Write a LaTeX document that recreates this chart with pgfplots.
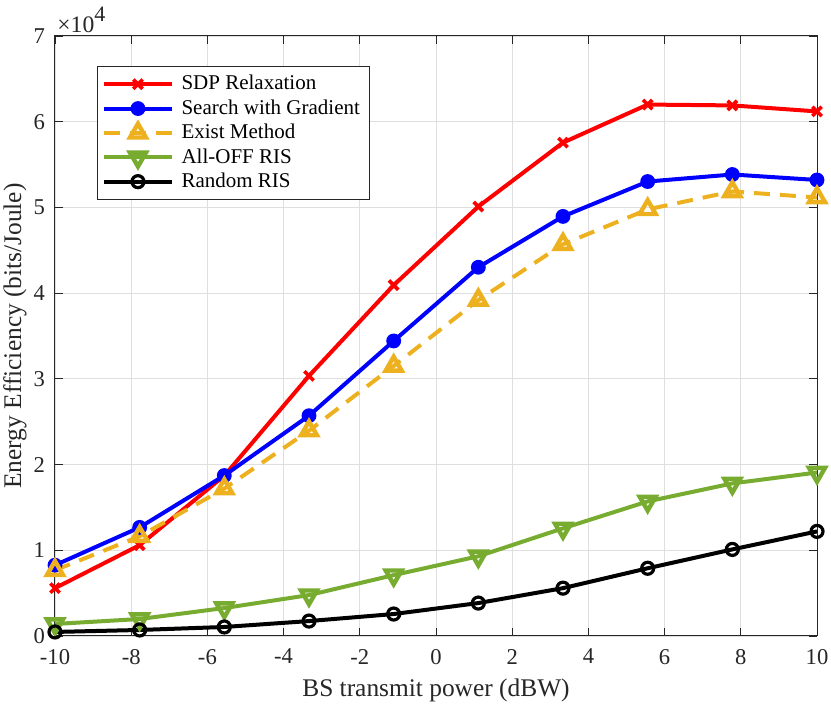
\documentclass[border=0pt]{standalone}
\usepackage{pgfplots}
\pgfplotsset{compat=1.18}
\usepackage{fontspec}
\setmainfont{Liberation Serif}
\definecolor{myyel}{rgb}{0.929,0.694,0.125}
\definecolor{mygrn}{rgb}{0.466,0.674,0.188}
\definecolor{axgray}{rgb}{0.15,0.15,0.15}
\begin{document}
\begin{tikzpicture}
\begin{axis}[
  name=ax,
  scale only axis, width=381pt, height=300pt,
  clip=false,
  xmin=-10, xmax=10, ymin=0, ymax=70000,
  xtick={-10,-8,...,10}, ytick={0,10000,...,70000},
  xticklabels={-10,-8,-6,-4,-2,0,2,4,6,8,10},
  yticklabels={0,1,2,3,4,5,6,7},
  scaled y ticks=false,
  tick label style={font=\fontsize{11.3}{13}\selectfont, text=axgray},
  xticklabel style={yshift=-3pt},
  yticklabel style={xshift=-1.5pt},
  xlabel={BS transmit power (dBW)},
  ylabel={Energy Efficiency (bits/Joule)},
  every axis x label/.style={at={(axis description cs:0.5,-0.1017)}, anchor=base, font=\fontsize{12.7}{14}\selectfont, text=axgray},
  every axis y label/.style={at={(axis description cs:-0.0525,0.5)}, rotate=90, anchor=center, font=\fontsize{12.7}{14}\selectfont, text=axgray},
  grid=major, major grid style={gray!25, line width=0.4pt},
  tick align=inside, major tick length=4pt,
  axis line style={axgray, line width=0.5pt},
  every tick/.style={axgray},
  legend style={at={(rel axis cs:0.0551,0.95)}, anchor=north west, draw=axgray, font=\fontsize{10.5}{12}\selectfont, inner sep=2.5pt, row sep=-0.6pt, /tikz/every odd column/.append style={column sep=2pt}},
  legend cell align=left,
  legend image code/.code={\draw[mark repeat=2,mark phase=2,#1] plot coordinates {(0cm,0cm) (0.59cm,0cm) (1.18cm,0cm)};},
]
\addplot[red, line width=2pt, mark=x, mark size=3.3pt, mark options={solid, line width=1.8pt}] coordinates {
(-10,5580) (-7.778,10600) (-5.556,18700) (-3.333,30350) (-1.111,40930) (1.111,50100) (3.333,57560) (5.556,62000) (7.778,61900) (10,61200)};
\addlegendentry{SDP Relaxation}
\addplot[blue, line width=2pt, mark=*, mark size=2.9pt, mark options={solid, line width=1.6pt}] coordinates {
(-10,8260) (-7.778,12670) (-5.556,18720) (-3.333,25700) (-1.111,34420) (1.111,43020) (3.333,48950) (5.556,53020) (7.778,53840) (10,53200)};
\addlegendentry{Search with Gradient}
\addplot[myyel, line width=2pt, dash pattern=on 8pt off 5pt, mark=triangle, mark size=4.6pt, mark options={solid, line width=2.2pt}] coordinates {
(-10,7670) (-7.778,11630) (-5.556,17200) (-3.333,23950) (-1.111,31500) (1.111,39190) (3.333,45700) (5.556,49770) (7.778,51860) (10,51160)};
\addlegendentry{Exist Method}
\addplot[mygrn, line width=2pt, mark=triangle, mark size=4.6pt, mark options={solid, rotate=180, line width=2.2pt}] coordinates {
(-10,1400) (-7.778,1980) (-5.556,3260) (-3.333,4770) (-1.111,7100) (1.111,9300) (3.333,12560) (5.556,15700) (7.778,17800) (10,19070)};
\addlegendentry{All-OFF RIS}
\addplot[black, line width=2pt, mark=o, mark size=3pt, mark options={solid, line width=1.6pt}] coordinates {
(-10,470) (-7.778,700) (-5.556,1050) (-3.333,1740) (-1.111,2560) (1.111,3840) (3.333,5580) (5.556,7900) (7.778,10100) (10,12200)};
\addlegendentry{Random RIS}
\node[anchor=base west, inner sep=0pt, text=axgray, font=\fontsize{11.8}{13}\selectfont] at ([xshift=1pt,yshift=1.75pt]rel axis cs:0,1) {×10\raisebox{5.5pt}{\fontsize{11}{12}\selectfont 4}};
\end{axis}
\pgfresetboundingbox
\path ([xshift=-27.5pt,yshift=-38pt]ax.south west) rectangle ([xshift=7pt,yshift=18pt]ax.north east);
\end{tikzpicture}
\end{document}
